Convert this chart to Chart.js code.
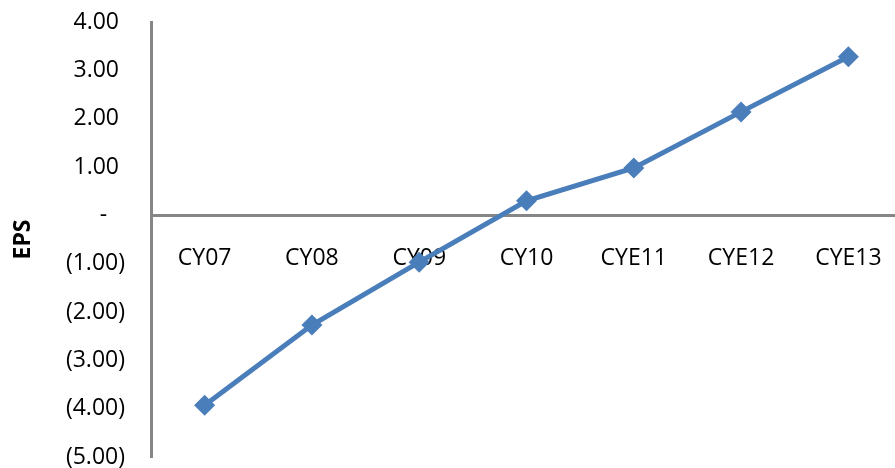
<!DOCTYPE html>
<html>
<head>
<meta charset="utf-8">
<script src="https://cdn.jsdelivr.net/npm/chart.js@4"></script>
<style>
html,body{margin:0;padding:0;background:#fff;overflow:hidden;}
#wrap{width:895px;height:468px;position:relative;overflow:hidden;}
#c{display:block;}
</style>
</head>
<body>
<div id="wrap"><canvas id="c" width="902" height="468"></canvas></div>
<script>
const categories = ["CY07","CY08","CY09","CY10","CYE11","CYE12","CYE13"];
const epsValues = [-3.93, -2.27, -0.97, 0.30, 0.98, 2.14, 3.28];
const yMin = -5, yMax = 4, yStep = 1;
const axisTitle = "EPS";

function fmt(v){
  if (Math.abs(v) < 1e-9) return "-   ";
  if (v < 0) return "(" + Math.abs(v).toFixed(2) + ")";
  return v.toFixed(2) + " ";
}

const blue = "#4A7EBB";
const grey = "#868686";

const chart = new Chart(document.getElementById("c"), {
  type: "line",
  data: {
    labels: categories,
    datasets: [{
      data: epsValues,
      borderColor: blue,
      backgroundColor: blue,
      borderWidth: 5,
      pointStyle: "rectRot",
      pointRadius: 10.5,
      pointBorderWidth: 0,
      pointBackgroundColor: blue,
      tension: 0,
      clip: false
    }]
  },
  options: {
    responsive: false,
    animation: false,
    devicePixelRatio: 1,
    layout: { autoPadding: false, padding: { top: 22, bottom: 11, left: 0, right: 0 } },
    plugins: { legend: { display: false }, tooltip: { enabled: false } },
    scales: {
      x: {
        type: "category",
        position: { y: 0 },
        offset: true,
        grid: { display: false, drawTicks: false },
        border: { display: true, color: grey, width: 3 },
        afterFit: (s) => { s.paddingLeft = 0; s.paddingRight = 0; },
        ticks: { color: "#000", padding: 29, font: { family: "'Open Sans'", size: 23 }, maxRotation: 0, autoSkip: false }
      },
      y: {
        min: yMin, max: yMax,
        grid: { display: false, drawTicks: false },
        border: { display: true, color: grey, width: 3 },
        afterFit: (s) => { s.width = 151; s.paddingTop = 0; s.paddingBottom = 0; },
        title: { display: true, text: axisTitle, color: "#000", padding: { top: 10, bottom: 0 }, font: { family: "'Open Sans'", size: 23, weight: "bold" } },
        ticks: { stepSize: yStep, color: "#000", padding: 26, font: { family: "'Open Sans'", size: 23 }, callback: (v) => fmt(v) }
      }
    }
  }
});
</script>
</body>
</html>
